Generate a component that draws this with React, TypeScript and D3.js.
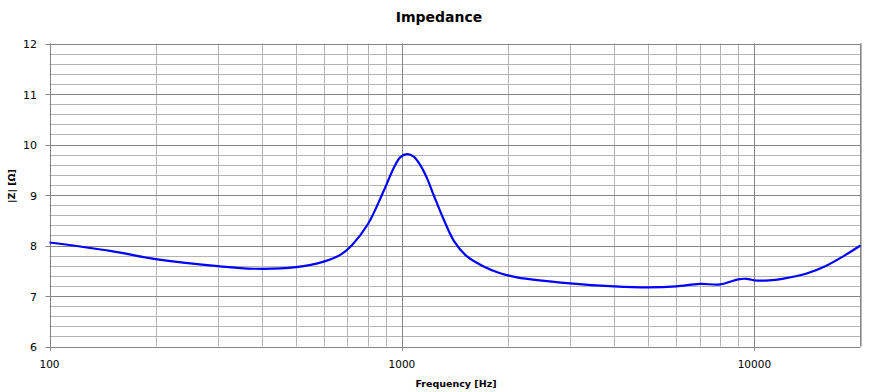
import * as d3 from 'd3';

const freqs = [100, 150, 200, 300, 380, 500, 600, 670, 720, 800, 890, 950, 990, 1035, 1080, 1125, 1180, 1230, 1320, 1410, 1520, 1700, 1900, 2120, 3000, 4000, 5000, 6000, 7000, 8000, 9000, 9500, 10000, 11000, 12000, 14000, 16000, 18000, 20000];
const impedance = [8.06, 7.89, 7.73, 7.59, 7.54, 7.57, 7.68, 7.82, 8.0, 8.42, 9.1, 9.55, 9.75, 9.81, 9.76, 9.6, 9.32, 9.0, 8.48, 8.07, 7.8, 7.59, 7.45, 7.37, 7.25, 7.19, 7.17, 7.19, 7.24, 7.23, 7.33, 7.34, 7.31, 7.31, 7.34, 7.44, 7.6, 7.8, 8.0];
const xTickLabels = ['100', '1000', '10000'];
const yTickLabels = [6, 7, 8, 9, 10, 11, 12];

export default function App() {
    const width = 882;
    const height = 392;
    const left = 49.5;
    const right = 860.5;
    const top = 43.5;
    const bottom = 346.5;

    const x = d3.scaleLog([100, 20000], [left, right]);
    const y = d3.scaleLinear([6, 12], [bottom, top]);

    const minorX: number[] = [];
    for (const dec of [100, 1000, 10000]) {
        for (let k = 2; k <= 9; k++) {
            if (dec * k <= 20000) minorX.push(dec * k);
        }
    }
    const minorY: number[] = [];
    for (let v = 6; v < 12; v++) {
        for (let k = 1; k < 5; k++) minorY.push(v + k * 0.2);
    }

    const line = d3.line<number>()
        .x((_, i) => x(freqs[i]))
        .y(d => y(d))
        .curve(d3.curveCatmullRom.alpha(0.5));

    const font = '"DejaVu Sans", Verdana, sans-serif';

    return (
        <svg width={width} height={height} style={{ position: 'absolute', left: 0, top: 0 }}>
            <rect width={width} height={height} fill="#fff" />
            <text x={439} y={22} textAnchor="middle" fontFamily={font} fontWeight="bold" fontSize={14}>Impedance</text>
            {minorY.map(v => (
                <line key={'my' + v} x1={left} x2={right} y1={Math.round(y(v)) + 0.5} y2={Math.round(y(v)) + 0.5} stroke="#b4b4b4" />
            ))}
            {minorX.map(f => (
                <line key={'mx' + f} x1={Math.round(x(f)) + 0.5} x2={Math.round(x(f)) + 0.5} y1={top} y2={bottom} stroke="#b4b4b4" />
            ))}
            {yTickLabels.map(v => (
                <g key={'y' + v}>
                    <line x1={left - 4} x2={right} y1={Math.round(y(v)) + 0.5} y2={Math.round(y(v)) + 0.5} stroke="#868686" />
                    <text x={37} y={y(v) + 4.5} textAnchor="end" fontFamily={font} fontSize={11}>{v}</text>
                </g>
            ))}
            {xTickLabels.map(t => (
                <g key={'x' + t}>
                    <line x1={Math.round(x(+t)) + 0.5} x2={Math.round(x(+t)) + 0.5} y1={top} y2={bottom + 4} stroke="#868686" />
                    <text x={x(+t)} y={368} textAnchor="middle" fontFamily={font} fontSize={10.5}>{t}</text>
                </g>
            ))}
            <line x1={right} x2={right} y1={top} y2={bottom} stroke="#868686" />
            <path d={line(impedance) ?? ''} fill="none" stroke="#0000ff" strokeWidth={2.2} />
            <text x={456} y={387} textAnchor="middle" fontFamily={font} fontWeight="bold" fontSize={9.5}>Frequency [Hz]</text>
            <text transform="translate(15,186) rotate(-90)" textAnchor="middle" fontFamily={font} fontWeight="bold" fontSize={9.5}>|Z| [Ω]</text>
        </svg>
    );
}
